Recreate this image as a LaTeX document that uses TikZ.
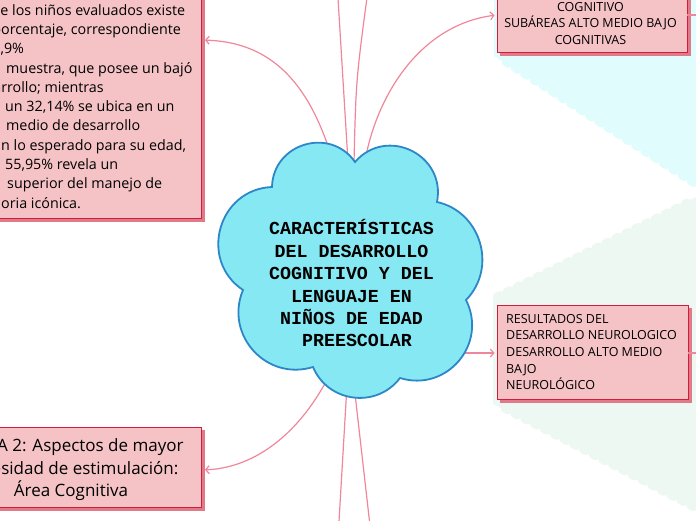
\documentclass[tikz,border=0pt]{standalone}
\usepackage{fontspec}
\setmainfont{Open Sans}
\newfontfamily\cloudfont{Liberation Mono}
\usetikzlibrary{arrows.meta,shadows,decorations.pathmorphing}
\definecolor{boxfill}{HTML}{F5C3C6}
\definecolor{boxdraw}{HTML}{CF1D3D}
\definecolor{boxshadow}{HTML}{E07A88}
\definecolor{linkcol}{HTML}{F0869A}
\definecolor{cloudfill}{HTML}{86E8F2}
\definecolor{clouddraw}{HTML}{2C87C8}
\definecolor{cyanbg}{HTML}{E0FCFC}
\definecolor{mintbg}{HTML}{EEF8F3}
\begin{document}
\begin{tikzpicture}[x=1pt,y=1pt,
  link/.style={draw=linkcol, line width=1.2pt},
  tip/.style={-{Straight Barb[length=3.5pt,width=8pt]}},
  pinkbox/.style={rectangle, fill=boxfill, draw=boxdraw, line width=0.9pt, inner sep=0pt,
     copy shadow={shadow xshift=3pt, shadow yshift=-3pt, fill=boxshadow, draw=boxshadow}},
  boxtext/.style={inner sep=0pt, text=black},
  bumpy/.style={decorate, decoration={bumps, segment length=22pt, amplitude=3pt}},
]
\useasboundingbox (0,-520) rectangle (696,0);
\clip (0,-520) rectangle (696,0);

% background regions
\fill[cyanbg] (710,10) -- (710,-188) -- (696,-186) decorate[bumpy]{-- (494,-56)} -- (494,10) -- cycle;
\fill[mintbg] (493,-297) decorate[bumpy]{-- (696,-197)} -- (710,-197) -- (710,-512) -- (696,-510) decorate[bumpy]{-- (493,-404)} -- cycle;

% boxes
\node[pinkbox, minimum width=241pt, minimum height=240pt] (tl) at (80.5,-98) {};
\node[pinkbox, minimum width=190pt, minimum height=84pt] (tr) at (592,-10) {};
\node[pinkbox, minimum width=191pt, minimum height=94pt] (rm) at (592.5,-352) {};
\node[pinkbox, minimum width=262pt, minimum height=80pt] (bl) at (70,-467.75) {};

\node[boxtext, anchor=north west, align=left, font=\fontsize{14.3}{19.3}\selectfont] (tltext) at (-40,-4.1) {%
\hspace*{31.5pt}de los niños evaluados existe\\
\hspace*{32.2pt}porcentaje, correspondiente\\
\hspace*{24pt}11,9\%\\
\hspace*{46pt}muestra, que posee un bajó\\
\hspace*{9.5pt}desarrollo; mientras\\
\hspace*{45pt}un 32,14\% se ubica en un\\
\hspace*{46pt}medio de desarrollo\\
\hspace*{9.5pt}según lo esperado para su edad,\\
\hspace*{45pt}55,95\% revela un\\
\hspace*{47pt}superior del manejo de\\
\hspace*{6.4pt}memoria icónica.};

\node[boxtext, anchor=north, align=center, font=\fontsize{12.5}{16.7}\selectfont] (trtext) at (590.5,-1.8) {COGNITIVO\\SUBÁREAS ALTO MEDIO BAJO\\COGNITIVAS};

\node[boxtext, anchor=north west, align=left, font=\fontsize{12.5}{16.7}\selectfont] (rmtext) at (506,-313.8) {RESULTADOS DEL\\DESARROLLO NEUROLOGICO\\DESARROLLO ALTO MEDIO\\BAJO\\NEUROLÓGICO};

\node[boxtext, anchor=north, align=center, font=\fontsize{17}{22.5}\selectfont] (bltext) at (71,-438.8) {TABLA 2: Aspectos de mayor\\necesidad de estimulación:\\Área Cognitiva};

% connector ends
\coordinate (c-tl) at (330,-152);
\coordinate (c-tr) at (366,-156);
\coordinate (c-rm) at (460,-353);
\coordinate (c-bl) at (328,-378);
\coordinate (c-t1) at (348,-162);
\coordinate (c-t2) at (354,-162);
\coordinate (c-b1) at (347,-385);
\coordinate (c-b2) at (354,-385);
\coordinate (o-t1) at (337.5,10);
\coordinate (o-t2) at (368,10);
\coordinate (o-b1) at (338.5,-530);
\coordinate (o-b2) at (370.5,-530);
\coordinate (o-tr) at (710,-15);
\coordinate (o-rm) at (710,-353);

\draw[link, tip, shorten >=3.5pt] (c-tl) .. controls (305,-75) and (265,-42) .. (tl.east |- 0,-40);
\draw[link, tip, shorten >=2pt] (c-tr) .. controls (378,-95) and (420,-25) .. (tr.west |- 0,-15);
\draw[link, tip, shorten >=2pt] (c-rm) -- (rm.west |- 0,-353);
\draw[link, tip, shorten >=3.5pt] (c-bl) .. controls (295,-440) and (250,-468) .. (bl.east |- 0,-470);
\draw[link] (c-t1) -- (o-t1);
\draw[link] (c-t2) .. controls (356,-80) .. (o-t2);
\draw[link] (c-b1) -- (o-b1);
\draw[link] (c-b2) -- (o-b2);
\draw[link] (tr.east |- 0,-15) -- (o-tr);
\draw[link] (rm.east |- 0,-353) -- (o-rm);

% cloud
\path[fill=cloudfill, draw=clouddraw, line width=1.8pt]
  (355,-162) to[bend left=75, looseness=1.35] (437,-202)
  to[bend left=61, looseness=1.13] (466,-300)
  to[bend left=67, looseness=1.23] (400,-378)
  to[bend left=60, looseness=1.13] (313,-367)
  to[bend left=65, looseness=1.2] (243,-290)
  to[bend left=72, looseness=1.29] (272,-187)
  to[bend left=72, looseness=1.29] (355,-162) -- cycle;

\node[inner sep=0pt, anchor=south, align=center, font=\cloudfont\bfseries\fontsize{18.3}{22.4}\selectfont] (ctext) at (351.5,-347.3)
  {CARACTERÍSTICAS\\DEL DESARROLLO\\COGNITIVO Y DEL\\LENGUAJE EN\\NIÑOS DE EDAD\\\ PREESCOLAR};
\end{tikzpicture}
\end{document}
